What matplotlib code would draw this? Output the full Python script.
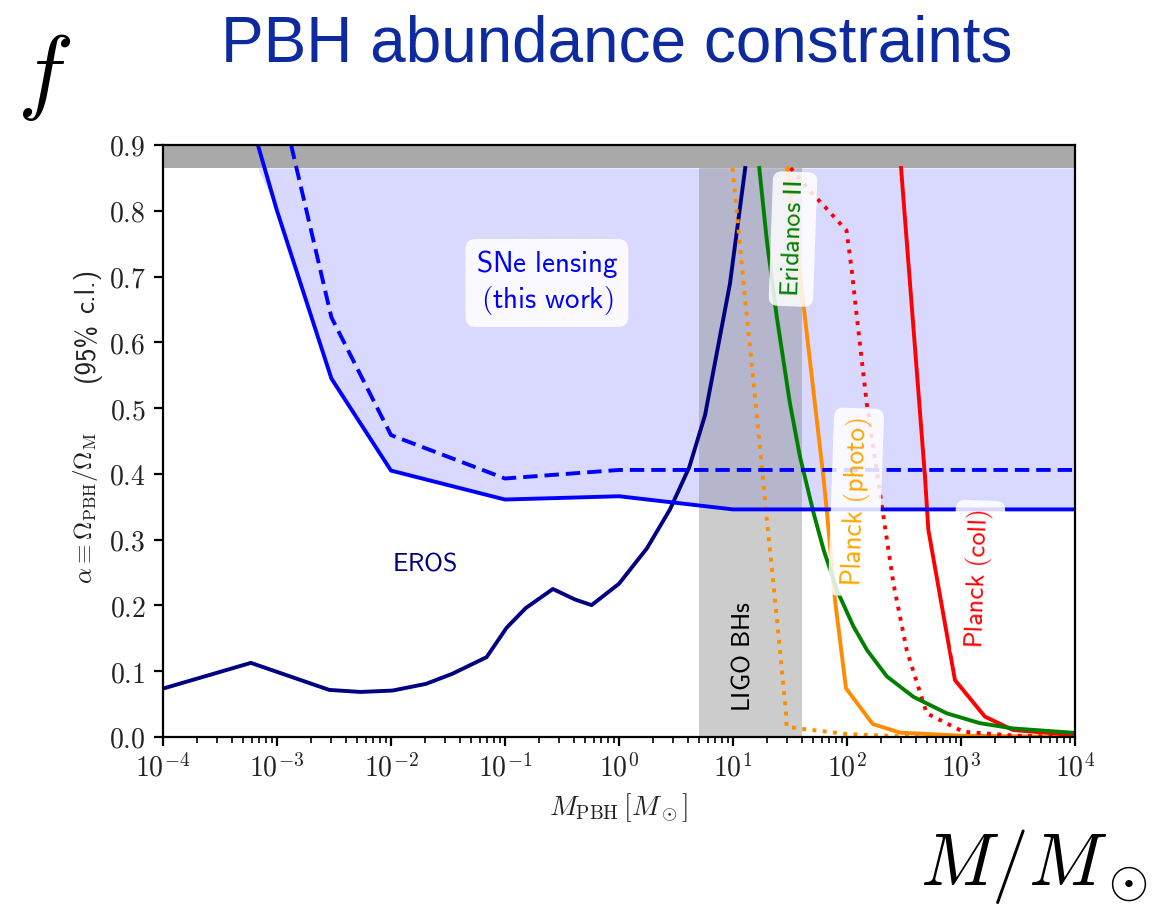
import os
import numpy as np
import matplotlib
matplotlib.use("Agg")
import matplotlib.pyplot as plt
from matplotlib.font_manager import FontProperties
from matplotlib.ticker import FixedLocator, FuncFormatter, LogLocator, NullFormatter

plt.rcParams['mathtext.fontset'] = 'cm'
plt.rcParams['font.family'] = ['DejaVu Sans']

# ---------------- data ----------------
sne_solid_m = [6.8e-4, 1e-3, 3e-3, 1e-2, 1e-1, 1.0, 10.0, 1e4]
sne_solid_a = [0.90, 0.80, 0.545, 0.405, 0.361, 0.366, 0.346, 0.346]

sne_dash_m = [1.33e-3, 3e-3, 1e-2, 1e-1, 1.0, 1e4]
sne_dash_a = [0.90, 0.638, 0.459, 0.393, 0.406, 0.406]

eros_m = [1e-4, 5.9e-4, 2.87e-3, 5.4e-3, 0.0103, 0.0202, 0.0344, 0.0689, 0.1032,
          0.152, 0.263, 0.412, 0.575, 1.0, 1.76, 2.8, 4.13, 5.68, 9.4, 12.8]
eros_a = [0.0736, 0.1127, 0.0716, 0.0685, 0.0706, 0.0807, 0.096, 0.1213, 0.166,
          0.196, 0.225, 0.209, 0.2005, 0.233, 0.287, 0.346, 0.41, 0.489, 0.689, 0.865]

eridanos_m = [17.0, 19.8, 24.2, 31.6, 38.7, 51.0, 62.5, 81.7, 114.0, 150.0,
              224.0, 383.0, 750.0, 1466.0, 2870.0, 1e4]
eridanos_a = [0.865, 0.755, 0.639, 0.507, 0.426, 0.34, 0.284, 0.223, 0.168, 0.132,
              0.092, 0.061, 0.036, 0.021, 0.013, 0.0062]

photo_m = [29.9, 41.4, 62.0, 66.4, 78.5, 98.0, 168.0, 292.0, 1000.0, 1e4]
photo_a = [0.865, 0.659, 0.396, 0.345, 0.208, 0.074, 0.0198, 0.0066, 0.002, 0.0]

photo_low_m = [9.9, 11.5, 12.7, 14.1, 15.6, 17.8, 19.7, 22.6, 25.8, 29.2, 29.5, 40.0, 100.0, 300.0, 1e4]
photo_low_a = [0.865, 0.75, 0.669, 0.593, 0.517, 0.416, 0.335, 0.234, 0.132, 0.036, 0.0157, 0.0125, 0.0045, 0.001, 0.0]

coll_m = [298.0, 483.0, 517.0, 885.0, 1620.0, 2860.0, 1e4]
coll_a = [0.865, 0.396, 0.315, 0.0866, 0.031, 0.0106, 0.003]

coll_low_m = [32.0, 47.3, 64.0, 99.0, 110.0, 122.0, 149.0, 209.0, 255.0, 334.0, 500.0, 1047.0, 3000.0, 1e4]
coll_low_a = [0.865, 0.83, 0.806, 0.77, 0.71, 0.639, 0.507, 0.335, 0.234, 0.132, 0.036, 0.008, 0.002, 0.0]

ligo_range = [5.0, 40.0]
excluded_top = [0.865, 0.9]

xticks = [1e-4, 1e-3, 1e-2, 1e-1, 1e0, 1e1, 1e2, 1e3, 1e4]
yticks = [0.0, 0.1, 0.2, 0.3, 0.4, 0.5, 0.6, 0.7, 0.8, 0.9]

# ---------------- figure ----------------
fig = plt.figure(figsize=(11.71, 9.09), dpi=100)
ax = fig.add_axes([163/1171, 1-737/909, (1075-163)/1171, (737-145)/909])
ax.set_xscale('log')
ax.set_xlim(1e-4, 1e4)
ax.set_ylim(0, 0.9)

# shading
ax.fill_between(sne_solid_m, np.minimum(sne_solid_a, excluded_top[0]), excluded_top[0],
                color='blue', alpha=0.15, lw=0, zorder=1)
ax.axvspan(ligo_range[0], ligo_range[1], ymin=0, ymax=excluded_top[0]/0.9, color='0.5',
           alpha=0.4, lw=0, zorder=1.5)
ax.axhspan(excluded_top[0], excluded_top[1], color='darkgray', lw=0, zorder=1.8)

lw = 2.8
ax.plot(eros_m, eros_a, color='navy', lw=lw, zorder=3)
ax.plot(photo_low_m, photo_low_a, color='darkorange', lw=lw, ls=':', zorder=3)
ax.plot(photo_m, photo_a, color='darkorange', lw=lw, zorder=3)
ax.plot(eridanos_m, eridanos_a, color='green', lw=lw, zorder=3.2)
ax.plot(coll_low_m, coll_low_a, color='red', lw=lw, ls=':', zorder=3)
ax.plot(coll_m, coll_a, color='red', lw=lw, zorder=3)
ax.plot(sne_solid_m, sne_solid_a, color='blue', lw=lw, zorder=4)
ax.plot(sne_dash_m, sne_dash_a, color='blue', lw=lw, ls=(0, (3.7, 1.8)), zorder=4)

# labels inside the plot
box = dict(boxstyle='round,pad=0.35', fc='white', ec='none', alpha=0.85)
ax.text(0.233, 0.691, r'$\mathsf{SNe\ lensing}$' + '\n' + r'$\mathsf{(this\ work)}$',
        color='blue', fontsize=21, ha='center', va='center', bbox=box, zorder=5,
        linespacing=1.15)
ax.text(0.0199, 0.264, r'$\mathsf{EROS}$', color='navy', fontsize=18.5,
        ha='center', va='center', zorder=5)
ax.text(12.0, 0.122, r'$\mathsf{LIGO\ BHs}$', color='black', fontsize=18.5,
        ha='center', va='center', rotation=90, zorder=5)
ax.text(33.6, 0.757, r'$\mathsf{Eridanos\ II}$', color='green', fontsize=19,
        ha='center', va='center', rotation=88, bbox=box, zorder=5)
ax.text(120, 0.357, r'$\mathsf{Planck\ (photo)}$', color='orange', fontsize=19.5,
        ha='center', va='center', rotation=88, bbox=box, zorder=5)
ax.text(1410, 0.240, r'$\mathsf{Planck\ (coll)}$', color='red', fontsize=19,
        ha='center', va='center', rotation=88, bbox=box, zorder=5)

# axes styling
for s in ax.spines.values():
    s.set_linewidth(1.6)
    s.set_zorder(6)
ax.xaxis.set_major_locator(FixedLocator(xticks))
ax.xaxis.set_major_formatter(FuncFormatter(lambda v, p: r'$10^{%d}$' % int(round(np.log10(v)))))
ax.xaxis.set_minor_locator(LogLocator(base=10, subs=np.arange(2, 10), numticks=20))
ax.xaxis.set_minor_formatter(NullFormatter())
ax.yaxis.set_major_locator(FixedLocator(yticks))
ax.yaxis.set_major_formatter(FuncFormatter(lambda v, p: r'$%.1f$' % v))
ax.tick_params(axis='both', which='major', direction='out', length=6.5, width=1.6,
               labelsize=20, top=False, right=False, pad=6, labelcolor='#222222')
ax.tick_params(axis='x', which='minor', direction='out', length=4, width=1.2, top=False)

ax.set_xlabel(r'$M_{\rm PBH}\,[M_\odot]$', fontsize=20, labelpad=6, color='#222222')
fig.text(86/1171, 1-508/909, r'$\alpha \equiv \Omega_{\rm PBH}/\Omega_{\rm M}$',
         rotation=90, ha='center', va='center', fontsize=18, color='#222222')
cmss = os.path.join(matplotlib.get_data_path(), 'fonts', 'ttf', 'cmss10.ttf')
fp = FontProperties(fname=cmss, size=19.5)
fig.text(87/1171, 1-352/909, '(95%', rotation=90, ha='center', va='center',
         fontproperties=fp, color='#222222')
fig.text(87/1171, 1-291/909, 'c.l.)', rotation=90, ha='center', va='center',
         fontproperties=fp, color='#222222')

# slide annotations
fig.text(617/1171, 1-62/909, 'PBH abundance constraints', color='#0d2b9e',
         fontsize=46, ha='center', va='baseline', family='Liberation Sans')
fig.text(44/1171, 1-77/909, r'$f$', fontsize=68, ha='center', va='center')
fig.text(1034/1171, 1-867/909, r'$M/M_\odot$', fontsize=53, ha='center', va='center')

fig.savefig('out.png', dpi=100)
